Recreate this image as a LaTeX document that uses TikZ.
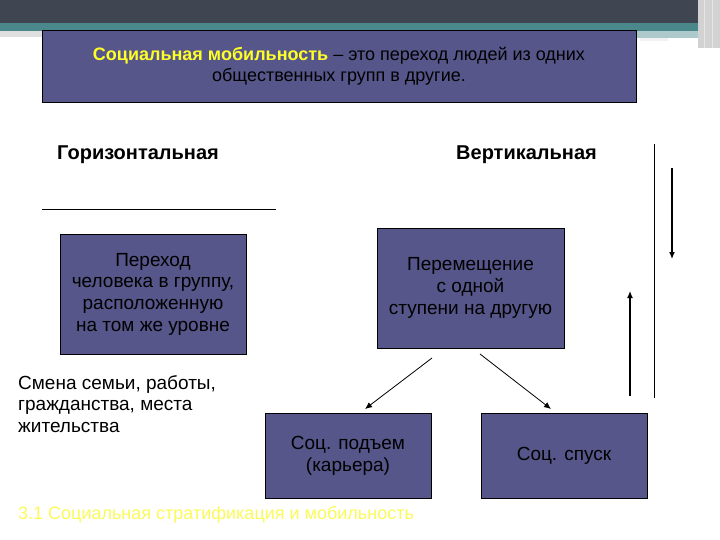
\documentclass[tikz,border=0pt]{standalone}
\usepackage{fontspec}
\setmainfont{Liberation Sans}
\usetikzlibrary{arrows.meta}
\definecolor{boxfill}{RGB}{86,86,138}
\definecolor{topbar}{RGB}{64,69,82}
\definecolor{teal2}{RGB}{74,136,140}
\definecolor{ylw}{RGB}{255,255,40}
\definecolor{footy}{RGB}{250,250,90}
\tikzset{
  box/.style={draw=black, line width=0.8pt, fill=boxfill, align=center, inner sep=0pt,
    font=\fontsize{19}{21.7}\selectfont},
  head/.style={font=\fontsize{20}{24}\selectfont\bfseries, anchor=west, inner sep=0pt},
  arr/.style={line width=1.2pt, -{Latex[length=7pt,width=6pt]}},
  darr/.style={line width=0.8pt, -{Latex[length=7pt,width=6pt]}}
}
\begin{document}
\begin{tikzpicture}[x=1pt,y=-1pt]
\useasboundingbox (0,0) rectangle (720,540);
% top decoration
\fill[topbar] (0,0) rectangle (720,23);
\fill[teal2] (0,23) rectangle (720,31);
\fill[gray!25] (0,31) rectangle (42,37);
\fill[teal2!45] (636,31) rectangle (700,38);
\fill[white!90!gray] (640,38) rectangle (668,41);
\fill[gray!35] (698,0) rectangle (720,48);
\draw[white!80!gray, line width=1pt] (704,0) -- (704,48) (712,0) -- (712,48);
% title
\node[box, minimum width=594pt, minimum height=72pt, font=\fontsize{18}{21}\selectfont] (title) at (339,66)
  {{\bfseries\color{ylw}Социальная мобильность} – это переход людей из одних\\общественных групп в другие.};
% headings
\node[head] (hor) at (57,155) {Горизонтальная};
\node[head] (ver) at (456,155) {Вертикальная};
\coordinate (hl1) at (42,209);
\coordinate (hl2) at (276,209);
\draw[line width=0.8pt] (hl1) -- (hl2);
% boxes
\node[box, minimum width=186pt, minimum height=120pt] (b1) at (153,294)
  {Переход\\человека в группу,\\расположенную\\на том же уровне};
\node[box, minimum width=187pt, minimum height=120pt] (b2) at (470.5,288)
  {Перемещение\\с одной\\ступени на другую};
\node[box, minimum width=166pt, minimum height=85pt] (b3) at (348,455.5)
  {Соц. подъем\\(карьера)};
\node[box, minimum width=166pt, minimum height=85pt] (b4) at (564,455.5)
  {Соц. спуск};
% left text
\node[anchor=west, align=left, inner sep=0pt, font=\fontsize{19}{21.5}\selectfont] (smena) at (18,404)
  {Смена семьи, работы,\\гражданства, места\\жительства};
% diagonal arrows
\coordinate (a1s) at (432,358);
\coordinate (a1e) at (365,409);
\coordinate (a2s) at (480,354);
\coordinate (a2e) at (551,409);
\draw[darr] (a1s) -- (a1e);
\draw[darr] (a2s) -- (a2e);
% right lines
\coordinate (v1) at (654,144);
\coordinate (v2) at (654,398);
\draw[line width=1pt] (v1) -- (v2);
\coordinate (d1) at (672,168);
\coordinate (d2) at (672,259);
\draw[arr] (d1) -- (d2);
\coordinate (u1) at (630,396);
\coordinate (u2) at (630,291);
\draw[arr] (u1) -- (u2);
% footer
\node[anchor=base west, inner sep=0pt, text=footy, font=\fontsize{18}{20}\selectfont] (foot) at (18,519)
  {3.1 Социальная стратификация и мобильность};
\end{tikzpicture}
\end{document}
